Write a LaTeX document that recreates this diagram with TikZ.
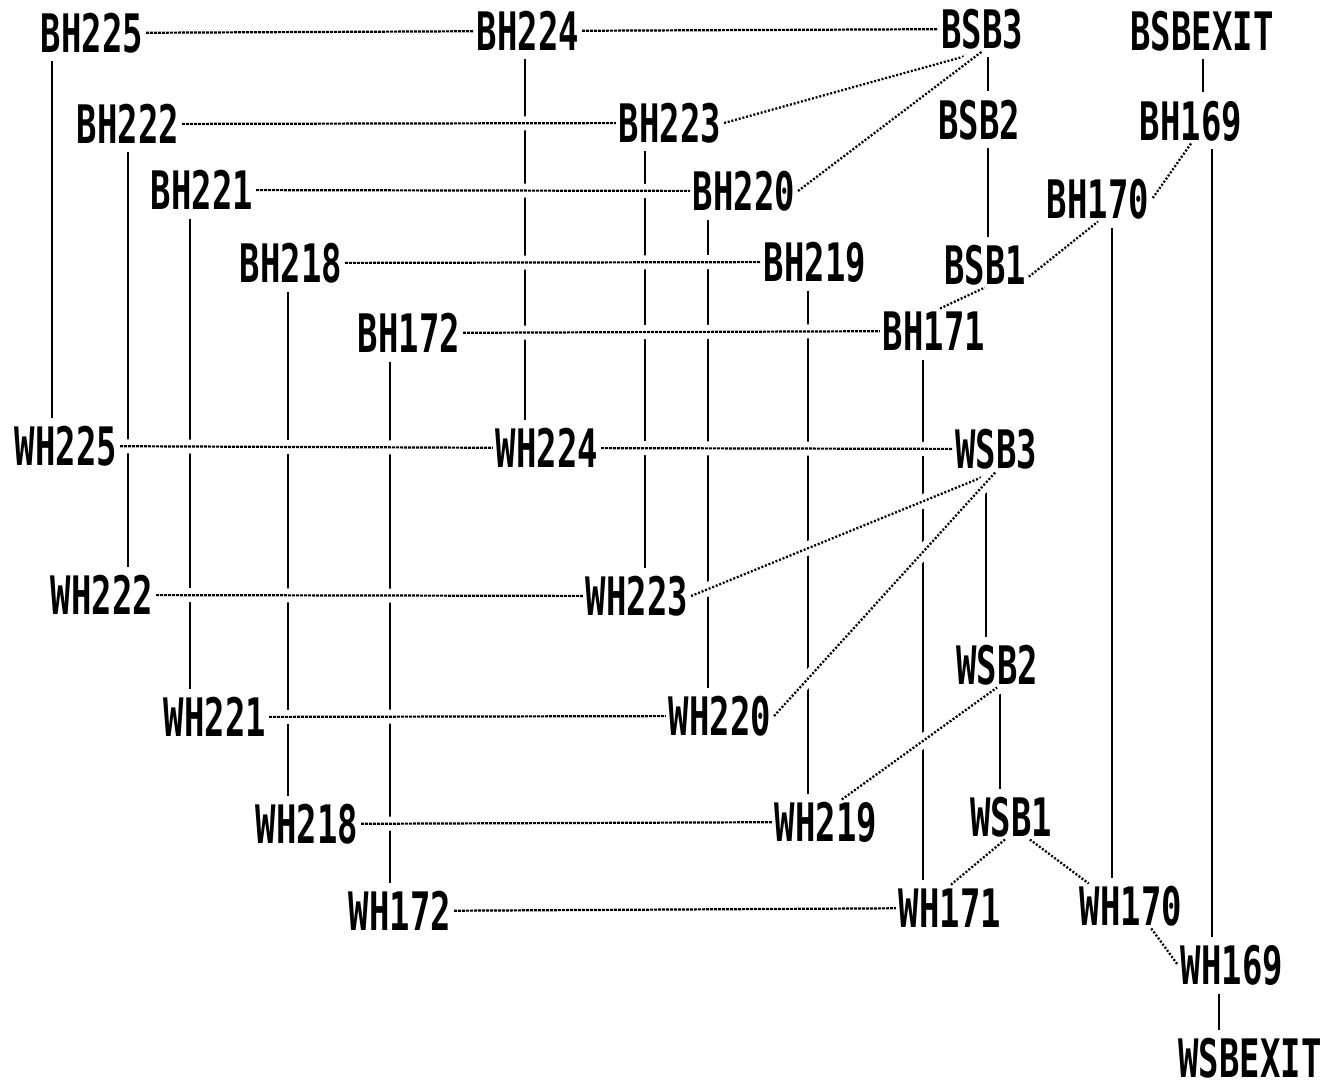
\documentclass[tikz,border=0pt]{standalone}
\usepackage{fontspec}
\newfontfamily\dmfont[FakeStretch=0.64]{DejaVu Sans Mono}
\usetikzlibrary{calc}
\pgfdeclarelayer{bg}
\pgfsetlayers{bg,main}
\newcommand\vlink[3]{\draw[vl] ([xshift=#3pt]#1.south) -- ([xshift=#3pt]#1.south |- #2.north);}
\begin{document}
\begin{tikzpicture}[x=1pt,y=-1pt,
  lbl/.style={inner sep=0pt, outer sep=3pt, font=\dmfont\bfseries\fontsize{53}{53}\selectfont, text height=39pt, text depth=0pt},
  vl/.style={line width=2.2pt, shorten <=6pt, shorten >=6pt},
  hl/.style={line width=2.2pt, dash pattern=on 3pt off 1pt, preaction={draw=white, line width=14pt, solid}},
  dl/.style={line width=2.3pt, dash pattern=on 2pt off 1.8pt, preaction={draw=white, line width=14pt, solid}}]
\useasboundingbox (0,0) rectangle (1333,1089);
% B row nodes
\node[lbl] (BH225) at (92,33) {BH225};
\node[lbl] (BH224) at (528,31) {BH224};
\node[lbl] (BSB3) at (982,29) {BSB3};
\node[lbl] (BSBEXIT) at (1202,31) {BSBEXIT};
\node[lbl] (BH222) at (128,124) {BH222};
\node[lbl] (BH223) at (670,123) {BH223};
\node[lbl] (BSB2) at (979,120) {BSB2};
\node[lbl] (BH169) at (1191,121) {BH169};
\node[lbl] (BH221) at (202,190) {BH221};
\node[lbl] (BH220) at (744,191) {BH220};
\node[lbl] (BH170) at (1098,199) {BH170};
\node[lbl] (BH218) at (291,263) {BH218};
\node[lbl] (BH219) at (815,262) {BH219};
\node[lbl] (BSB1) at (985,265) {BSB1};
\node[lbl] (BH172) at (409,333) {BH172};
\node[lbl] (BH171) at (934,331) {BH171};
% W row nodes
\node[lbl] (WH225) at (66,446) {WH225};
\node[lbl] (WH224) at (547,448) {WH224};
\node[lbl] (WSB3) at (996,449) {WSB3};
\node[lbl] (WH222) at (102,595) {WH222};
\node[lbl] (WH223) at (637,596) {WH223};
\node[lbl] (WSB2) at (997,665) {WSB2};
\node[lbl] (WH221) at (215,717) {WH221};
\node[lbl] (WH220) at (720,716) {WH220};
\node[lbl] (WH218) at (307,824) {WH218};
\node[lbl] (WH219) at (826,822) {WH219};
\node[lbl] (WSB1) at (1011,817) {WSB1};
\node[lbl] (WH172) at (400,911) {WH172};
\node[lbl] (WH171) at (950,908) {WH171};
\node[lbl] (WH170) at (1131,906) {WH170};
\node[lbl] (WH169) at (1232,965) {WH169};
\node[lbl] (WSBEXIT) at (1250,1058) {WSBEXIT};
\begin{pgfonlayer}{bg}
% vertical connectors
\vlink{BH225}{WH225}{-40}
\vlink{BH222}{WH222}{0}
\vlink{BH221}{WH221}{-12}
\vlink{BH218}{WH218}{-3}
\vlink{BH172}{WH172}{-19}
\vlink{BH224}{WH224}{-3}
\vlink{BH223}{WH223}{-25}
\vlink{BH220}{WH220}{-36}
\vlink{BH219}{WH219}{-7}
\vlink{BH171}{WH171}{-11}
\vlink{BSB3}{BSB2}{6}
\vlink{BSB2}{BSB1}{9}
\vlink{BSBEXIT}{BH169}{1}
\vlink{BH169}{WH169}{21}
\vlink{BH170}{WH170}{14}
\vlink{WSB3}{WSB2}{-10}
\vlink{WSB2}{WSB1}{3}
\vlink{WH169}{WSBEXIT}{-13}
% horizontal connectors
\draw[hl] (BH225) -- (BH224);
\draw[hl] (BH224) -- (BSB3);
\draw[hl] (BH222) -- (BH223);
\draw[hl] (BH221) -- (BH220);
\draw[hl] (BH218) -- (BH219);
\draw[hl] (BH172) -- (BH171);
\draw[hl] (WH225) -- (WH224);
\draw[hl] (WH224) -- (WSB3);
\draw[hl] (WH222) -- (WH223);
\draw[hl] (WH221) -- (WH220);
\draw[hl] (WH218) -- (WH219);
\draw[hl] (WH172) -- (WH171);
% diagonal connectors
\draw[dl] (BH223.east) -- (BSB3.south);
\draw[dl] (BH220.east) -- (BSB3.south);
\draw[dl] (BH171.75) -- (BSB1.south);
\draw[dl] (BSB1.-15) -- (BH170.south);
\draw[dl] (BH169.south) -- (BH170.east);
\draw[dl] (WH223.east) -- (WSB3.south);
\draw[dl] (WH220.east) -- (WSB3.south);
\draw[dl] (WH219.55) -- (WSB2.south);
\draw[dl] (WSB1.-105) -- (WH171.north);
\draw[dl] (WSB1.-50) -- (WH170.152);
\draw[dl] (WH170.-48) -- (WH169.west);
\end{pgfonlayer}
\end{tikzpicture}
\end{document}
